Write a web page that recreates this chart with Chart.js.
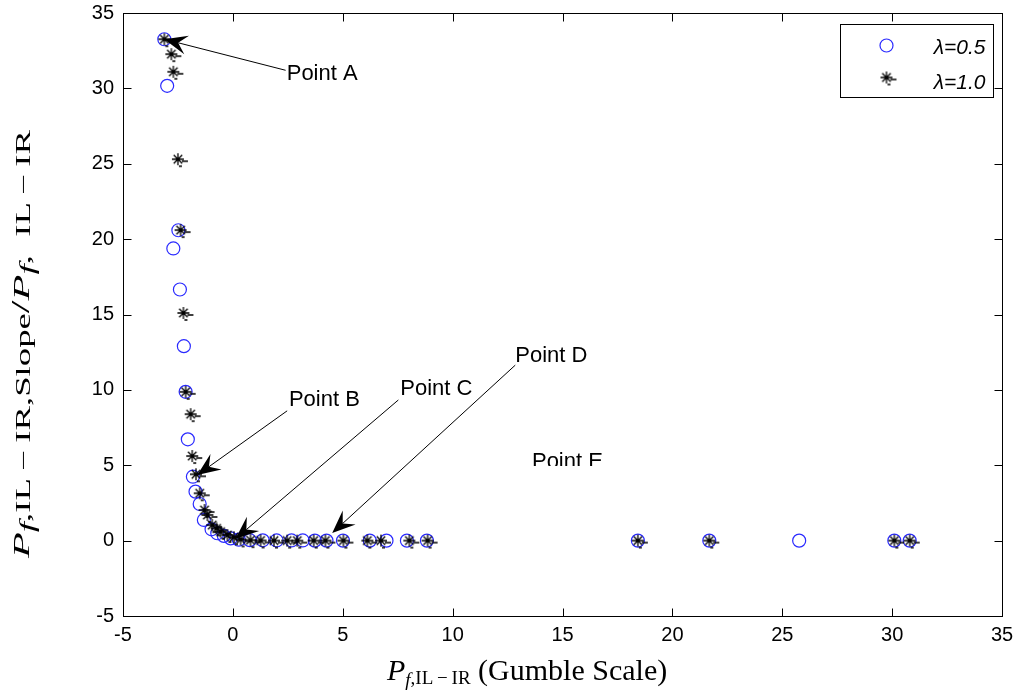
<!DOCTYPE html>
<html>
<head>
<meta charset="utf-8">
<script src="https://cdn.jsdelivr.net/npm/chart.js@4.4.1/dist/chart.umd.min.js"></script>
<style>
  html, body { margin: 0; padding: 0; background: #fff; }
</style>
</head>
<body>
<canvas id="chart" width="1015" height="691"></canvas>
<script>
// lambda = 0.5 (circles)
const halfX = [-3.12, -2.99, -2.71, -2.48, -2.41, -2.23, -2.15, -2.05, -1.82, -1.70, -1.51, -1.32, -0.97, -0.71, -0.41, -0.10,
  0.27, 0.77, 1.36, 1.99, 2.67, 3.18, 3.73, 4.26, 5.01, 6.23, 6.99, 7.92, 8.83, 18.43, 21.68, 25.77, 30.10, 30.80];
const halfY = [33.26, 30.17, 19.38, 20.59, 16.66, 12.90, 9.87, 6.72, 4.24, 3.25, 2.43, 1.37, 0.75, 0.49, 0.31, 0.15,
  0.06, 0.03, 0.02, 0.01, 0.01, 0.01, 0, 0, 0, 0, 0, 0, 0, 0, 0, 0, 0, 0];

// lambda = 1.0 (stars)
const oneX = [-3.12, -2.80, -2.71, -2.50, -2.38, -2.25, -2.15, -1.92, -1.85, -1.68, -1.51, -1.29, -1.16, -0.94, -0.74, -0.56,
  -0.25, 0.05, 0.35, 0.80, 1.26, 1.87, 2.47, 2.93, 3.68, 4.21, 5.03, 6.12, 6.74, 8.03, 8.86, 18.43, 21.68, 30.10, 30.80];
const oneY = [33.26, 32.27, 31.10, 25.30, 20.60, 15.10, 9.87, 8.39, 5.61, 4.40, 3.14, 2.03, 1.70, 1.03, 0.81, 0.59,
  0.37, 0.22, 0.08, 0.03, 0.01, 0, 0, 0, 0, 0, 0, 0, 0, 0, 0, 0, 0, 0, 0];

const xTicks = [-5, 0, 5, 10, 15, 20, 25, 30, 35];
const yTicks = [-5, 0, 5, 10, 15, 20, 25, 30, 35];
const seriesNames = ['\u03bb=0.5', '\u03bb=1.0'];

// callouts: text anchor (left, baseline), arrow tail, arrow tip - all in data units
const calloutText = ['Point A', 'Point B', 'Point C', 'Point D', 'Point E'];
const calloutAt = [[2.45, 30.54], [2.55, 8.93], [7.62, 9.66], [12.85, 11.84], [13.61, 4.79]];
const calloutTail = [[2.40, 31.2], [2.47, 8.61], [7.53, 9.33], [12.85, 11.64], null];
const calloutTip = [[-3.12, 33.26], [-1.62, 4.35], [0.12, 0.12], [4.52, 0.50], null];
const calloutClip = [null, null, null, null, 4.95];

const SANS = '"Liberation Sans", Arial, sans-serif';
const SERIF = '"Liberation Serif", "Times New Roman", serif';
const BLUE = '#2a2aff';

function starMarker() {
  const c = document.createElement('canvas');
  c.width = 28; c.height = 28;
  const g = c.getContext('2d');
  const cx = 14, cy = 14, r = 6, d = r * Math.SQRT1_2;
  g.strokeStyle = '#000';
  g.lineWidth = 1.3;
  g.beginPath();
  g.moveTo(cx - r, cy); g.lineTo(cx + r, cy);
  g.moveTo(cx, cy - r); g.lineTo(cx, cy + r);
  g.moveTo(cx - d, cy - d); g.lineTo(cx + d, cy + d);
  g.moveTo(cx - d, cy + d); g.lineTo(cx + d, cy - d);
  g.stroke();
  // little dashes trailing each star
  g.lineWidth = 1.6;
  g.beginPath();
  g.moveTo(cx + 4, cy + 2); g.lineTo(cx + 10, cy + 2);
  g.moveTo(cx + 1, cy + 7); g.lineTo(cx + 4, cy + 7);
  g.stroke();
  return c;
}
const star = starMarker();

function richRun(ctx, runs, x, y, draw) {
  let cx = x;
  runs.forEach(r => {
    ctx.font = (r.it ? 'italic ' : '') + r.size + 'px ' + SERIF;
    if (draw) ctx.fillText(r.t, cx, y + (r.dy || 0));
    cx += ctx.measureText(r.t).width;
  });
  return cx - x;
}

const axisTitles = {
  id: 'axisTitles',
  afterDraw(chart) {
    const ctx = chart.ctx;
    ctx.save();
    ctx.fillStyle = '#000';
    ctx.textBaseline = 'alphabetic';
    ctx.textAlign = 'left';

    const xRuns = [
      { t: 'P', it: true, size: 30 },
      { t: 'f', it: true, size: 19, dy: 6 },
      { t: ',IL\u2009\u2212\u2009IR', size: 19, dy: 4 },
      { t: ' (Gumble Scale)', size: 30 }
    ];
    richRun(ctx, xRuns, 387, 680, true);

    // the vertical title is drawn stretched along its length
    const yRuns = [
      { t: 'P', it: true, size: 23 },
      { t: 'f', it: true, size: 20, dy: 5 },
      { t: ',IL\u2009\u2212\u2009IR,Slope', size: 20, dy: 1 },
      { t: '/', size: 25 },
      { t: 'P', it: true, size: 23 },
      { t: 'f', it: true, size: 20, dy: 5 },
      { t: ',  IL\u2009\u2212\u2009IR', size: 20, dy: 1 }
    ];
    const span = 428;
    const natural = richRun(ctx, yRuns, 0, 0, false);
    ctx.translate(29, 558);
    ctx.rotate(-Math.PI / 2);
    ctx.scale(span / natural, 1);
    richRun(ctx, yRuns, 0, 0, true);
    ctx.restore();
  }
};

const frame = {
  id: 'frame',
  afterDraw(chart) {
    const { ctx, chartArea: a, scales: { x, y } } = chart;
    const L = Math.round(a.left) + 0.5, R = Math.round(a.right) + 0.5;
    const T = Math.round(a.top) + 0.5, B = Math.round(a.bottom) + 0.5;
    const tl = 8;
    ctx.save();
    ctx.strokeStyle = '#000';
    ctx.lineWidth = 1;
    ctx.strokeRect(L, T, R - L, B - T);
    ctx.beginPath();
    xTicks.forEach(v => {
      const px = Math.round(x.getPixelForValue(v)) + 0.5;
      ctx.moveTo(px, B); ctx.lineTo(px, B - tl);
      ctx.moveTo(px, T); ctx.lineTo(px, T + tl);
    });
    yTicks.forEach(v => {
      const py = Math.round(y.getPixelForValue(v)) + 0.5;
      ctx.moveTo(L, py); ctx.lineTo(L + tl, py);
      ctx.moveTo(R, py); ctx.lineTo(R - tl, py);
    });
    ctx.stroke();

    // legend box in the upper right corner
    const bw = 153, bh = 73;
    const bx = Math.round(a.right) - 9 - bw + 0.5, by = Math.round(a.top) + 11 + 0.5;
    ctx.fillStyle = '#fff';
    ctx.fillRect(bx, by, bw, bh);
    ctx.strokeRect(bx, by, bw, bh);
    ctx.beginPath();
    ctx.strokeStyle = BLUE;
    ctx.lineWidth = 1.2;
    ctx.arc(bx + 46, by + 21, 6.5, 0, Math.PI * 2);
    ctx.stroke();
    ctx.drawImage(star, bx + 46 - star.width / 2, by + 53 - star.height / 2);
    ctx.fillStyle = '#000';
    ctx.font = 'italic 21px ' + SANS;
    ctx.textAlign = 'right';
    ctx.fillText(seriesNames[0], bx + 145, by + 29);
    ctx.fillText(seriesNames[1], bx + 145, by + 64);
    ctx.restore();
  }
};

const callouts = {
  id: 'callouts',
  afterDatasetsDraw(chart) {
    const { ctx, scales: { x, y } } = chart;
    ctx.save();
    ctx.strokeStyle = '#000';
    ctx.fillStyle = '#000';
    ctx.lineWidth = 1;
    calloutText.forEach((txt, i) => {
      const tail = calloutTail[i], tip = calloutTip[i];
      if (tail && tip) {
        const x0 = x.getPixelForValue(tail[0]), y0 = y.getPixelForValue(tail[1]);
        const x1 = x.getPixelForValue(tip[0]), y1 = y.getPixelForValue(tip[1]);
        const ang = Math.atan2(y1 - y0, x1 - x0);
        const len = 23, half = 9.5;
        const ux = Math.cos(ang), uy = Math.sin(ang);
        const bxp = x1 - ux * len, byp = y1 - uy * len;
        const nx = x1 - ux * len * 0.62, ny = y1 - uy * len * 0.62;
        ctx.beginPath();
        ctx.moveTo(x0, y0);
        ctx.lineTo(nx, ny);
        ctx.stroke();
        ctx.beginPath();
        ctx.moveTo(x1, y1);
        ctx.lineTo(bxp - uy * half, byp + ux * half);
        ctx.lineTo(nx, ny);
        ctx.lineTo(bxp + uy * half, byp - ux * half);
        ctx.closePath();
        ctx.fill();
      }
      const tx = x.getPixelForValue(calloutAt[i][0]);
      const ty = y.getPixelForValue(calloutAt[i][1]);
      ctx.save();
      if (calloutClip[i] !== null) {
        const cy = y.getPixelForValue(calloutClip[i]);
        ctx.beginPath();
        ctx.rect(tx - 5, ty - 40, 200, cy - (ty - 40));
        ctx.clip();
      }
      ctx.font = '22px ' + SANS;
      ctx.textAlign = 'left';
      ctx.textBaseline = 'alphabetic';
      ctx.fillText(txt, tx, ty);
      ctx.restore();
    });
    ctx.restore();
  }
};

const tickFont = { family: SANS, size: 20 };

new Chart(document.getElementById('chart').getContext('2d'), {
  type: 'scatter',
  data: {
    datasets: [
      {
        label: seriesNames[0],
        data: halfX.map((v, i) => ({ x: v, y: halfY[i] })),
        pointStyle: 'circle',
        pointRadius: 6.5,
        borderColor: BLUE,
        backgroundColor: 'rgba(0,0,0,0)',
        borderWidth: 1.2,
        order: 2
      },
      {
        label: seriesNames[1],
        data: oneX.map((v, i) => ({ x: v, y: oneY[i] })),
        pointStyle: star,
        pointRadius: 6,
        borderColor: '#000',
        order: 1
      }
    ]
  },
  plugins: [callouts, frame, axisTitles],
  options: {
    responsive: false,
    animation: false,
    layout: { padding: { left: 0, top: 13, right: 13, bottom: 0 } },
    plugins: { legend: { display: false }, tooltip: { enabled: false } },
    scales: {
      x: {
        type: 'linear',
        min: -5, max: 35,
        afterBuildTicks: s => { s.ticks = xTicks.map(v => ({ value: v })); },
        afterFit: s => { s.height = 75; s.paddingLeft = 0; s.paddingRight = 0; },
        grid: { display: false, drawTicks: false },
        border: { display: false },
        ticks: { font: tickFont, color: '#000', padding: 7, maxRotation: 0 }
      },
      y: {
        type: 'linear',
        min: -5, max: 35,
        afterBuildTicks: s => { s.ticks = yTicks.map(v => ({ value: v })); },
        afterFit: s => { s.width = 123; s.paddingTop = 0; s.paddingBottom = 0; },
        grid: { display: false, drawTicks: false },
        border: { display: false },
        ticks: { font: tickFont, color: '#000', padding: 9 }
      }
    }
  }
});
</script>
</body>
</html>
